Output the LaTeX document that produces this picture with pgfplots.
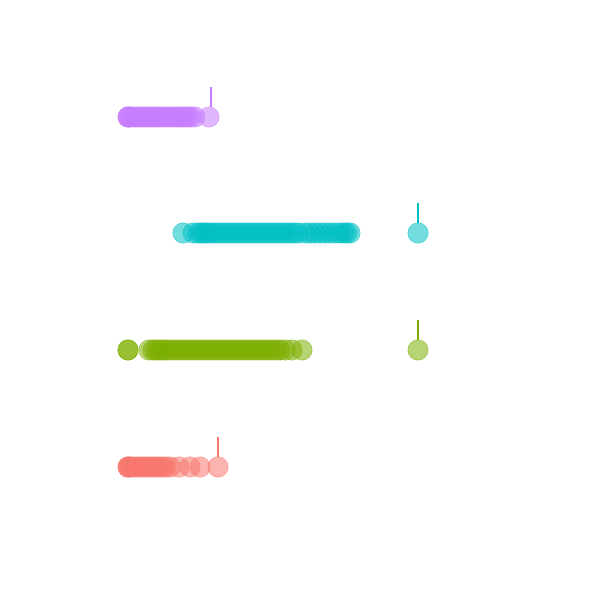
\documentclass[border=0pt]{standalone}
\usepackage{pgfplots}
\pgfplotsset{compat=1.18}
\definecolor{cpur}{HTML}{C77CFF}
\definecolor{ccya}{HTML}{00BFC4}
\definecolor{cgre}{HTML}{7CAE00}
\definecolor{cred}{HTML}{F8766D}
\begin{document}
\begin{tikzpicture}
\begin{axis}[
  width=600pt, height=600pt, scale only axis,
  xmin=0, xmax=600, ymin=0, ymax=600,
  hide axis, clip=false,
  dots/.style={only marks, mark=*, mark size=10.2pt,
    mark options={fill=#1, draw=#1, fill opacity=0.55, draw opacity=0.55, line width=0.6pt}},
  stem/.style={no marks, #1, line width=1.6pt},
]
\draw[draw=none] (rel axis cs:0,0) rectangle (rel axis cs:1,1);
% purple row
\addplot[dots=cpur] coordinates {
(128,483)(128,483)(129,483)(130,483)(133,483)(136,483)(139,483)(142,483)(145,483)(148,483)(151,483)(154,483)
(157,483)(160,483)(163,483)(166,483)(170,483)(173,483)(176,483)(179,483)(182,483)(185,483)
(188,483)(191,483)(195,483)(209,483)};
\addplot[stem=cpur] coordinates {(211,493)(211,513)};
% cyan row
\addplot[dots=ccya] coordinates {
(183,367)(193,367)(198,367)(201,367)(204,367)(207,367)(210,367)(214,367)(218,367)(222,367)
(226,367)(230,367)(234,367)(238,367)(242,367)(246,367)(250,367)(254,367)(258,367)(262,367)
(266,367)(270,367)(274,367)(278,367)(282,367)(286,367)(290,367)(294,367)(298,367)(305,367)
(310,367)(315,367)(320,367)(325,367)(330,367)(335,367)(340,367)(344,367)(347,367)(350,367)
(418,367)};
\addplot[stem=ccya] coordinates {(418,377)(418,397)};
% green row
\addplot[dots=cgre] coordinates {
(128,250)(128,250)(149,250)(153,250)(156,250)(159,250)(162,250)(165,250)(168,250)(172,250)(176,250)
(180,250)(184,250)(188,250)(192,250)(196,250)(200,250)(204,250)(208,250)(212,250)(216,250)
(220,250)(224,250)(228,250)(232,250)(236,250)(240,250)(244,250)(248,250)(252,250)(256,250)
(260,250)(264,250)(268,250)(272,250)(276,250)(280,250)(285,250)(292,250)(302,250)(418,250)};
\addplot[stem=cgre] coordinates {(418,260)(418,280)};
% red row
\addplot[dots=cred] coordinates {
(128,133)(128,133)(129,133)(130,133)(133,133)(136,133)(139,133)(142,133)(145,133)(148,133)(151,133)(154,133)
(157,133)(160,133)(163,133)(166,133)(170,133)(179,133)(190,133)(200,133)(218,133)};
\addplot[stem=cred] coordinates {(218,143)(218,163)};
\end{axis}
\end{tikzpicture}
\end{document}
